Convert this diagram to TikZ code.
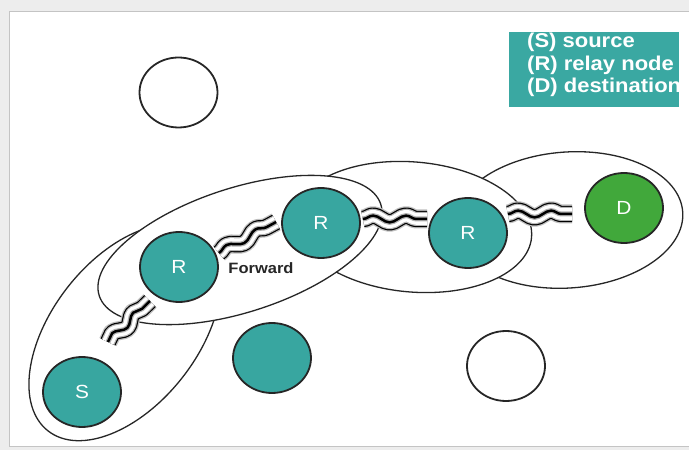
\documentclass[tikz,border=0pt]{standalone}
\usepackage{fontspec}
\setmainfont{Liberation Sans}
\usetikzlibrary{shapes.geometric,decorations.pathmorphing,calc}
\definecolor{tealfill}{HTML}{38A6A0}
\definecolor{legendfill}{HTML}{3AA8A2}
\definecolor{destfill}{HTML}{41A83B}
\definecolor{rimgray}{HTML}{C4C4C4}
\definecolor{pagegray}{HTML}{EDEDED}
% A wireless hop: a wavy band of three parallel lines.
% #1 start, #2 end, #3 wavelength
\newcommand\wavelink[3]{%
  \foreach \lw/\lc in {19/black!25, 16.4/black, 14/black!30, 11.6/white, 5/black!30, 2.5/black}{%
    \draw[line width=\lw, draw=\lc, line join=round, decorate,
          decoration={snake, amplitude=3.4, segment length=#3}] #1 -- #2;}%
}
\begin{document}
\begin{tikzpicture}[x=1pt, y=1pt,
  bigloop/.style={draw=black!85, line width=1.3, fill=white},
  station/.style={ellipse, draw=black!85, line width=1.8, minimum width=78, minimum height=70,
                  inner sep=0, text=white, font=\fontsize{19}{19}\selectfont},
  relay/.style={station, fill=tealfill},
  dest/.style={station, fill=destfill},
  hollow/.style={station, fill=white},
  legendtext/.style={anchor=base west, inner sep=0, text=white, font=\fontsize{20}{20}\selectfont\bfseries},
  caption/.style={inner sep=0, text=black!85, font=\fontsize{15}{15}\selectfont\bfseries}]
\useasboundingbox (0,0) rectangle (689,450);
\fill[pagegray] (0,0) rectangle (689,450);
\draw[rimgray, fill=white, line width=1] (9,3) rectangle (700,438);

% clusters of cooperating nodes (later ones cover earlier ones)
\draw[bigloop, rotate around={4:(568,230)}] (568,230) ellipse [x radius=115, y radius=68];
\draw[bigloop, rotate around={-5:(413,223)}] (413,223) ellipse [x radius=119, y radius=65];
\draw[bigloop, rotate around={52:(125,117.6)}] (125,117.6) ellipse [x radius=125, y radius=73];
\draw[bigloop, rotate around={18:(240,200)}] (240,200) ellipse [x radius=148, y radius=62];

% stations
\node[hollow] (idle1) at (178.5,357.5) {};
\node[relay] (S)  at (82,58)   {\scalebox{1.1}[1]{S}};
\node[relay] (R1) at (179,183) {\scalebox{1.1}[1]{R}};
\node[relay] (R2) at (321,227) {\scalebox{1.1}[1]{R}};
\node[relay] (R3) at (468,217) {\scalebox{1.1}[1]{R}};
\node[dest]  (D)  at (624,242) {\scalebox{1.1}[1]{D}};
\node[relay] (idle2) at (272,92) {};
\node[hollow] (idle3) at (506,84) {};

% wireless hops
\wavelink{($(S)+(26,50)$)}{($(R1)+(-29,-34)$)}{29.2}
\wavelink{($(R1.east)+(0,14)$)}{($(R2.west)+(-5,1)$)}{33.2}
\wavelink{($(R2.east)+(2,4)$)}{($(R3.west)+(-1,14)$)}{32.9}
\wavelink{($(R3.east)+(0,19)$)}{($(D.west)+(-12,-6)$)}{32.9}

\node[caption] (fwd) at (261,182) {\scalebox{1.1}[1]{Forward}};

% legend
\fill[legendfill] (509,343) rectangle (679,418);
\begin{scope}
  \clip (509,343) rectangle (679,418);
  \node[legendtext] (lgS) at (527,402)   {\scalebox{1.1}[1]{(S) source}};
  \node[legendtext] (lgR) at (527,379.5) {\scalebox{1.1}[1]{(R) relay node}};
  \node[legendtext] (lgD) at (527,357)   {\scalebox{1.1}[1]{(D) destination}};
\end{scope}
\end{tikzpicture}
\end{document}
